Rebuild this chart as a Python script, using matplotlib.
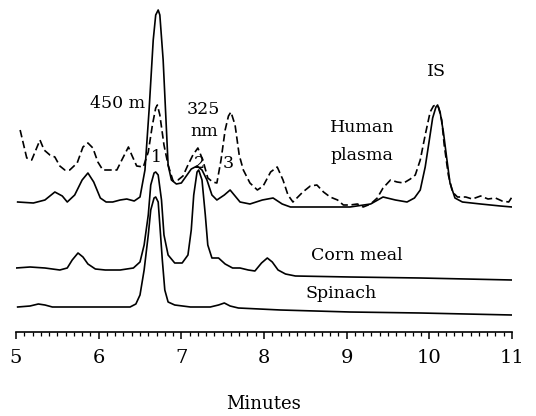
import matplotlib
matplotlib.use("Agg")
import matplotlib.pyplot as plt
from matplotlib.ticker import MultipleLocator

# Human plasma, 450 nm (solid)
plasma_450_t = [5.02, 5.21, 5.35, 5.47, 5.56, 5.62, 5.71, 5.80, 5.87, 5.94, 6.02, 6.09, 6.17, 6.26,
                6.34, 6.43, 6.50, 6.56, 6.61, 6.66, 6.69, 6.72, 6.74, 6.78, 6.82, 6.84, 6.88, 6.94,
                7.00, 7.06, 7.12, 7.19, 7.25, 7.31, 7.37, 7.43, 7.52, 7.59, 7.65, 7.71, 7.83, 7.98,
                8.11, 8.22, 8.32, 8.68, 9.04, 9.29, 9.44, 9.59, 9.73, 9.82, 9.89, 9.95, 10.00, 10.04,
                10.08, 10.10, 10.13, 10.17, 10.21, 10.25, 10.31, 10.40, 10.62, 10.86, 11.00]
plasma_450_s = [130, 129, 132, 140, 136, 130, 137, 152, 159, 150, 134, 130, 130, 132,
                133, 131, 135, 162, 222, 292, 317, 322, 317, 272, 202, 167, 152, 148,
                149, 156, 163, 166, 162, 152, 137, 132, 137, 142, 136, 130, 128, 132,
                134, 128, 125, 125, 125, 128, 135, 132, 130, 134, 142, 165, 192, 214,
                225, 227, 220, 200, 174, 149, 134, 130, 128, 126, 125]

# Human plasma, 325 nm (dashed)
plasma_325_t = [5.05, 5.13, 5.19, 5.24, 5.29, 5.34, 5.41, 5.47, 5.53, 5.59, 5.65, 5.74, 5.81, 5.87,
                5.93, 5.99, 6.05, 6.14, 6.22, 6.28, 6.36, 6.40, 6.46, 6.54, 6.60, 6.65, 6.69, 6.71,
                6.74, 6.79, 6.84, 6.90, 6.96, 7.02, 7.08, 7.14, 7.20, 7.26, 7.32, 7.38, 7.43, 7.48,
                7.53, 7.57, 7.60, 7.65, 7.70, 7.75, 7.83, 7.92, 7.99, 8.08, 8.16, 8.23, 8.29, 8.35,
                8.41, 8.47, 8.56, 8.64, 8.72, 8.80, 8.89, 8.96, 9.04, 9.13, 9.20, 9.29, 9.37, 9.44,
                9.53, 9.61, 9.69, 9.77, 9.83, 9.89, 9.95, 10.01, 10.05, 10.08, 10.11, 10.15, 10.18,
                10.23, 10.28, 10.34, 10.44, 10.52, 10.62, 10.71, 10.80, 10.88, 10.96, 11.00]
plasma_325_s = [202, 174, 172, 182, 192, 182, 177, 175, 166, 162, 162, 169, 185, 189,
                184, 170, 162, 162, 162, 172, 185, 177, 166, 165, 180, 207, 224, 227,
                217, 187, 167, 151, 152, 156, 167, 177, 184, 172, 154, 150, 149, 172,
                202, 216, 220, 207, 177, 162, 149, 142, 146, 160, 165, 152, 137, 130,
                135, 140, 146, 147, 140, 135, 132, 127, 127, 128, 125, 128, 134, 144,
                152, 150, 149, 153, 157, 172, 197, 220, 226, 227, 225, 212, 187,
                157, 140, 135, 135, 133, 136, 133, 134, 131, 130, 135]

# Corn meal
corn_t = [5.00, 5.17, 5.35, 5.53, 5.62, 5.68, 5.75, 5.81, 5.87, 5.96, 6.08, 6.26, 6.42, 6.50,
          6.55, 6.60, 6.63, 6.67, 6.69, 6.72, 6.76, 6.79, 6.84, 6.92, 7.01, 7.08, 7.12, 7.15,
          7.19, 7.21, 7.25, 7.29, 7.32, 7.37, 7.45, 7.53, 7.62, 7.71, 7.81, 7.89, 7.97, 8.04,
          8.10, 8.17, 8.26, 8.38, 9.04, 9.89, 11.00]
corn_s = [64, 65, 64, 62, 64, 72, 79, 75, 68, 63, 62, 62, 64, 70,
          87, 117, 147, 159, 160, 157, 132, 97, 77, 69, 69, 77, 102, 137,
          160, 162, 152, 117, 87, 74, 74, 68, 64, 64, 62, 61, 69, 74,
          70, 62, 58, 56, 55, 54, 52]

# Spinach
spinach_t = [5.02, 5.17, 5.27, 5.35, 5.44, 5.77, 6.14, 6.38, 6.45, 6.50, 6.55, 6.60, 6.63, 6.67,
             6.69, 6.72, 6.74, 6.77, 6.80, 6.84, 6.92, 7.11, 7.35, 7.45, 7.52, 7.59, 7.69, 8.20,
             9.04, 9.89, 11.00]
spinach_s = [25, 26, 28, 27, 25, 25, 25, 25, 28, 37, 62, 97, 122, 134,
             135, 130, 107, 72, 42, 30, 27, 25, 25, 27, 29, 26, 24, 22,
             20, 19, 17]

x_major = [5, 6, 7, 8, 9, 10, 11]
x_labels = ["5", "6", "7", "8", "9", "10", "11"]

plt.rcParams['font.family'] = ['DejaVu Serif']

fig = plt.figure(figsize=(5.36, 4.16), dpi=100)
ax = fig.add_axes([16/536, (416-332)/416, 496/536, 325/416])

lw = 1.2
ax.plot(plasma_450_t, plasma_450_s, color='black', lw=lw, solid_joinstyle='round')
ax.plot(plasma_325_t, plasma_325_s, color='black', lw=lw, linestyle=(0, (4.5, 2.2)))
ax.plot(corn_t, corn_s, color='black', lw=lw, solid_joinstyle='round')
ax.plot(spinach_t, spinach_s, color='black', lw=lw, solid_joinstyle='round')

ax.set_xlim(5, 11)
ax.set_ylim(0, 325)
for sp in ['left', 'right', 'top']:
    ax.spines[sp].set_visible(False)
ax.spines['bottom'].set_linewidth(1.2)
ax.set_yticks([])
ax.set_xticks(x_major)
ax.set_xticklabels(x_labels, fontsize=14)
ax.xaxis.set_minor_locator(MultipleLocator(0.1))
ax.tick_params(axis='x', which='major', direction='out', length=5, width=1.1, pad=7.5)
ax.tick_params(axis='x', which='minor', direction='out', length=2.8, width=0.9)
ax.set_xlabel("Minutes", fontsize=13, labelpad=20)

def px(xp, yp):
    return (5 + (xp - 16) / 82.6, 332 - yp)

fs = 12.5
ax.text(*px(117, 103), "450 m", fontsize=fs, ha='center', va='center')
ax.text(*px(203, 109), "325", fontsize=fs, ha='center', va='center')
ax.text(*px(204, 131), "nm", fontsize=fs, ha='center', va='center')
ax.text(*px(156, 157), "1", fontsize=fs, ha='center', va='center')
ax.text(*px(199, 163), "2", fontsize=fs, ha='center', va='center')
ax.text(*px(228, 164), "3", fontsize=fs, ha='center', va='center')
ax.text(*px(436, 72), "IS", fontsize=fs, ha='center', va='center')
ax.text(*px(330, 127), "Human", fontsize=fs, ha='left', va='center')
ax.text(*px(330, 155), "plasma", fontsize=fs, ha='left', va='center')
ax.text(*px(357, 255), "Corn meal", fontsize=fs, ha='center', va='center')
ax.text(*px(341, 293), "Spinach", fontsize=fs, ha='center', va='center')

fig.savefig("out.png", dpi=100)
